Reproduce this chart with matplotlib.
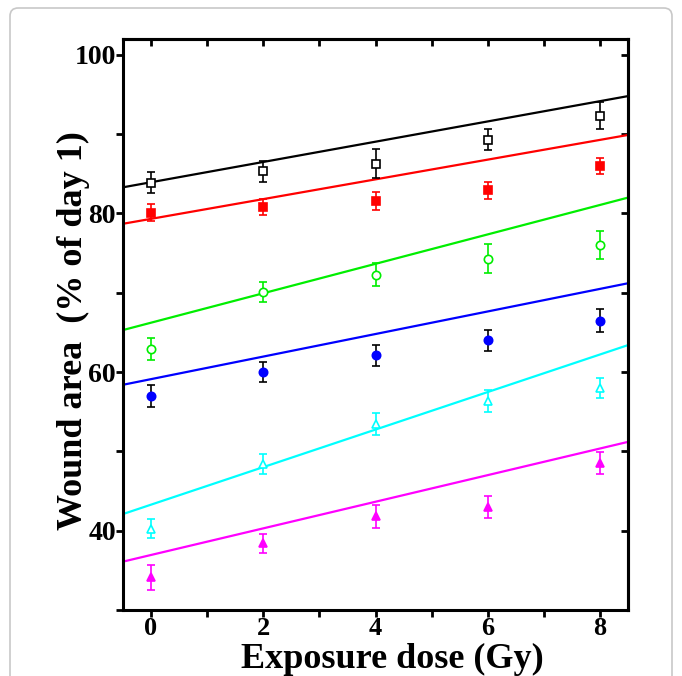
import numpy as np
import matplotlib
matplotlib.use('Agg')
import matplotlib.pyplot as plt
from matplotlib.patches import FancyBboxPatch
from matplotlib.ticker import MultipleLocator

plt.rcParams['font.family'] = 'Liberation Serif'
plt.rcParams['font.weight'] = 'bold'

dose = [0, 2, 4, 6, 8]

# mean wound area per group and its error
black_y   = [83.9, 85.3, 86.3, 89.3, 92.3]
black_err = [1.3, 1.3, 1.8, 1.3, 1.7]
red_y     = [80.1, 80.8, 81.6, 82.9, 86.0]
red_err   = [1.1, 1.0, 1.1, 1.1, 1.0]
green_y   = [62.9, 70.1, 72.3, 74.3, 76.0]
green_err = [1.4, 1.3, 1.5, 1.8, 1.8]
blue_y    = [57.0, 60.0, 62.1, 64.0, 66.5]
blue_err  = [1.4, 1.3, 1.3, 1.3, 1.5]
cyan_y    = [40.25, 48.4, 53.5, 56.4, 58.0]
cyan_err  = [1.2, 1.3, 1.4, 1.4, 1.3]
mag_y     = [34.1, 38.4, 41.8, 43.0, 48.5]
mag_err   = [1.6, 1.2, 1.4, 1.4, 1.4]

# fitted lines: value at x=-0.5 and x=8.5
line_x = [-0.5, 8.5]
black_fit = [83.3, 94.8]
red_fit   = [78.7, 89.9]
green_fit = [65.3, 82.0]
blue_fit  = [58.4, 71.2]
cyan_fit  = [42.1, 63.4]
mag_fit   = [36.1, 51.2]

fig = plt.figure(figsize=(6.82, 6.76), dpi=100)
frame = FancyBboxPatch((10/682, -0.05), 662/682, (676-8)/676 + 0.05,
                       boxstyle="round,pad=0,rounding_size=0.012",
                       transform=fig.transFigure, fc='white', ec='#c8c8c8',
                       lw=1.2, zorder=-10)
fig.patches.append(frame)

ax = fig.add_axes([123/682, 66/676, 505/682, 571/676])
ax.set_facecolor('none')

series = [
    (black_y, black_err, black_fit, 'black', 's', 'white', 'black'),
    (red_y, red_err, red_fit, '#ff0000', 's', '#ff0000', '#ff0000'),
    (green_y, green_err, green_fit, '#00ee00', 'o', 'white', '#00ee00'),
    (blue_y, blue_err, blue_fit, '#0000ff', 'o', '#0000ff', 'black'),
    (cyan_y, cyan_err, cyan_fit, '#00ffff', '^', 'white', '#00ffff'),
    (mag_y, mag_err, mag_fit, '#ff00ff', '^', '#ff00ff', '#ff00ff'),
]

for y, err, fit, col, mk, face, ecol in series:
    ax.plot(line_x, fit, color=col, lw=1.6, zorder=2)
    ax.errorbar(dose, y, yerr=err, fmt='none', ecolor=ecol, elinewidth=1.2,
                capsize=3, capthick=1.2, zorder=3)
    ax.plot(dose, y, linestyle='none', marker=mk, ms=6, mfc=face, mec=col,
            mew=1.2, zorder=4)

ax.set_xlim(-0.5, 8.5)
ax.set_ylim(30, 102)
ax.xaxis.set_major_locator(MultipleLocator(2))
ax.xaxis.set_minor_locator(MultipleLocator(1))
ax.yaxis.set_major_locator(MultipleLocator(20))
ax.yaxis.set_minor_locator(MultipleLocator(10))

for s in ax.spines.values():
    s.set_linewidth(2.2)

ax.tick_params(axis='both', which='both', width=2, length=5, labelsize=20,
               direction='out')
ax.tick_params(axis='x', labelsize=19, pad=0)
ax.tick_params(axis='y', pad=0)

# inward ticks on top and right
top = ax.secondary_xaxis('top')
top.xaxis.set_major_locator(MultipleLocator(1))
top.tick_params(direction='in', width=2, length=5, labeltop=False)
top.spines['top'].set_linewidth(2.2)
right = ax.secondary_yaxis('right')
right.yaxis.set_major_locator(MultipleLocator(10))
right.tick_params(direction='in', width=2, length=5, labelright=False)
right.spines['right'].set_linewidth(2.2)

for lab in ax.get_xticklabels() + ax.get_yticklabels():
    lab.set_fontweight('bold')

ax.set_xlabel('Exposure dose (Gy)', fontsize=26, fontweight='bold')
ax.xaxis.set_label_coords(0.533, -0.058)
ax.set_ylabel('Wound area  (% of day 1)', fontsize=26, fontweight='bold')
ax.yaxis.set_label_coords(-0.065, 0.49)

fig.savefig('out.png', dpi=100)
